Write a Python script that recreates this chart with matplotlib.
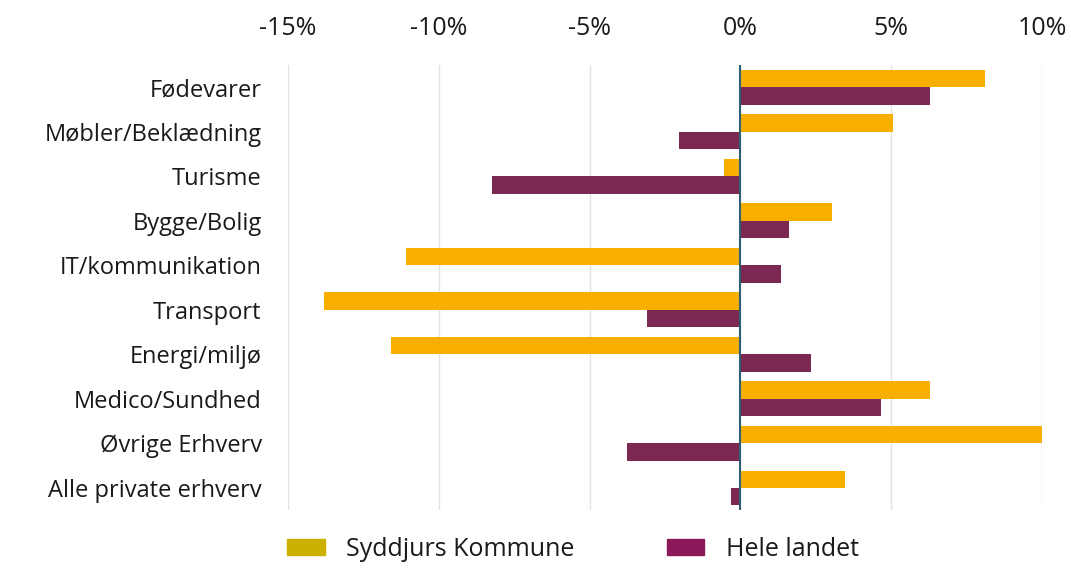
import matplotlib.pyplot as plt
import numpy as np
from matplotlib.patches import Patch
from matplotlib.ticker import FuncFormatter

categories = ["Fødevarer", "Møbler/Beklædning", "Turisme", "Bygge/Bolig",
              "IT/kommunikation", "Transport", "Energi/miljø", "Medico/Sundhed",
              "Øvrige Erhverv", "Alle private erhverv"]
syddjurs = [8.1, 5.05, -0.55, 3.05, -11.1, -13.8, -11.6, 6.3, 10.0, 3.45]
hele_landet = [6.3, -2.05, -8.25, 1.6, 1.35, -3.1, 2.35, 4.65, -3.75, -0.3]
series_names = ["Syddjurs Kommune", "Hele landet"]
ticks = [-15, -10, -5, 0, 5, 10]

plt.rcParams['font.family'] = ['Open Sans', 'DejaVu Sans']

fig = plt.figure(figsize=(10.71, 5.70), dpi=100)
ax = fig.add_axes([0.269, 0.105, 0.704, 0.781])

y = np.arange(len(categories))
h = 0.39
ax.barh(y - h / 2, syddjurs, height=h, color="#F9AF00", zorder=2)
ax.barh(y + h / 2, hele_landet, height=h, color="#7B2952", zorder=2)
ax.axvline(0, color="#2F5F73", lw=1.5, zorder=3)

ax.set_xlim(-15, 10)
ax.set_ylim(len(categories) - 0.5, -0.5)
ax.set_xticks(ticks)
ax.xaxis.set_major_formatter(FuncFormatter(lambda v, p: f"{v:.0f}%"))
ax.xaxis.tick_top()
ax.set_yticks(y)
ax.set_yticklabels(categories)
ax.tick_params(axis='both', length=0, colors="#1a1a1a")
ax.tick_params(axis='y', pad=19, labelsize=17)
ax.tick_params(axis='x', pad=17, labelsize=18)
ax.grid(axis='x', color="#e3e3e3", lw=1, zorder=0)
for s in ax.spines.values():
    s.set_visible(False)

handles = [Patch(color="#CCB000"), Patch(color="#8B1A5A")]
fig.legend(handles, series_names, loc="lower center", bbox_to_anchor=(0.535, -0.025),
           ncol=2, frameon=False, fontsize=18, handlelength=1.5, handleheight=0.6,
           columnspacing=3.7, handletextpad=0.85, labelcolor="#1a1a1a")

fig.savefig("out.png", dpi=100)
